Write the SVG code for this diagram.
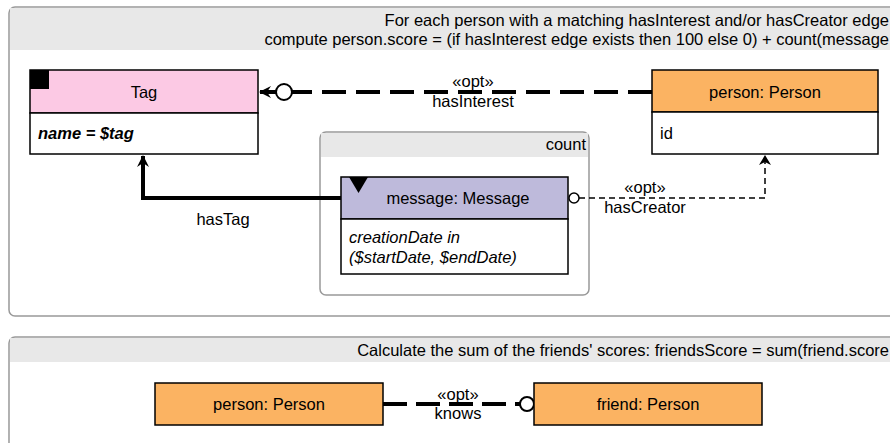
<svg xmlns="http://www.w3.org/2000/svg" width="890" height="443" viewBox="0 0 890 443">
<style>
text{font-family:"Liberation Sans",Arial,sans-serif;font-size:16.5px;fill:#000}
.frame{fill:#fff;stroke:#999;stroke-width:1.5}
.hdr{fill:#e8e8e8}
.node{stroke:#000;stroke-width:1.5}
.mid{text-anchor:middle}
.end{text-anchor:end}
.it{font-style:italic}
.bi{font-style:italic;font-weight:bold}
.lbl{font-size:16.5px;text-anchor:middle}
</style>
<defs>
<marker id="arr" markerWidth="12" markerHeight="12" refX="11" refY="6" orient="auto" markerUnits="userSpaceOnUse">
<path d="M0,0 L12,6 L0,12 L4,6 z" fill="#000"/>
</marker>
<marker id="arrs" markerWidth="10" markerHeight="12" refX="9" refY="6" orient="auto" markerUnits="userSpaceOnUse">
<path d="M0,0 L10,6 L0,12 L3,6 z" fill="#000"/>
</marker>
</defs>
<g id="frame1">
<rect class="frame" x="9" y="7" width="900" height="309" rx="6"/>
<rect class="hdr" x="10" y="8" width="890" height="42"/>
<text class="end" x="889" y="26">For each person with a matching hasInterest and/or hasCreator edge</text>
<text class="end" x="889" y="45">compute person.score = (if hasInterest edge exists then 100 else 0) + count(message</text>
</g>
<g id="frame2">
<rect class="frame" x="9" y="337" width="900" height="140" rx="6"/>
<rect class="hdr" x="10" y="338" width="890" height="24"/>
<text class="end" x="889" y="356">Calculate the sum of the friends' scores: friendsScore = sum(friend.score</text>
</g>
<g id="count">
<rect x="320" y="132" width="269" height="163" rx="6" fill="#fff" stroke="#999" stroke-width="1.5"/>
<path d="M321,133 H588 V157 H321 Z" fill="#e8e8e8"/>
<text class="end" x="586" y="150">count</text>
</g>
<g id="connectors" fill="none">
<path d="M652,92 H260" stroke="#000" stroke-width="4" stroke-dasharray="24,10" marker-end="url(#arr)"/>
<circle cx="284" cy="92" r="8" fill="#fff" stroke="#000" stroke-width="2"/>
<path d="M341,198 H143 V156" stroke="#000" stroke-width="4" marker-end="url(#arr)"/>
<path d="M579,198 H765 V156" stroke="#000" stroke-width="1.5" stroke-dasharray="6,4" marker-end="url(#arrs)"/>
<circle cx="574" cy="198" r="5" fill="#fff" stroke="#000" stroke-width="1.5"/>
<path d="M383,404 H520" stroke="#000" stroke-width="4" stroke-dasharray="24,9"/>
<circle cx="527" cy="404" r="7" fill="#fff" stroke="#000" stroke-width="2"/>
<text class="lbl" x="473" y="87">«opt»</text>
<text class="lbl" x="473" y="107">hasInterest</text>
<text class="lbl" x="223" y="225">hasTag</text>
<text class="lbl" x="645" y="193">«opt»</text>
<text class="lbl" x="645" y="213">hasCreator</text>
<text class="lbl" x="458" y="400">«opt»</text>
<text class="lbl" x="458" y="419">knows</text>
</g>
<g id="tag">
<rect class="node" x="30" y="70" width="228" height="43" fill="#fcc9e4"/>
<rect class="node" x="30" y="113" width="228" height="41" fill="#fff"/>
<rect x="30" y="70" width="19" height="19" fill="#000"/>
<text class="mid" x="144" y="98">Tag</text>
<text class="bi" x="38" y="139">name = $tag</text>
</g>
<g id="person1">
<rect class="node" x="652" y="70" width="226" height="42" fill="#fbb362"/>
<rect class="node" x="652" y="112" width="226" height="42" fill="#fff"/>
<text class="mid" x="765" y="98">person: Person</text>
<text x="660" y="139">id</text>
</g>
<g id="message">
<rect class="node" x="341" y="177" width="227" height="42" fill="#bebadb"/>
<rect class="node" x="341" y="219" width="227" height="55" fill="#fff"/>
<path d="M349,177 L368,177 L358.5,193 Z" fill="#000"/>
<text class="mid" x="458" y="204">message: Message</text>
<text class="it" x="349" y="243">creationDate in</text>
<text class="it" x="349" y="263">($startDate, $endDate)</text>
</g>
<g id="person2">
<rect class="node" x="155" y="383" width="228" height="42" fill="#fbb362"/>
<text class="mid" x="269" y="410">person: Person</text>
</g>
<g id="friend">
<rect class="node" x="534" y="383" width="228" height="42" fill="#fbb362"/>
<text class="mid" x="648" y="410">friend: Person</text>
</g>
</svg>
